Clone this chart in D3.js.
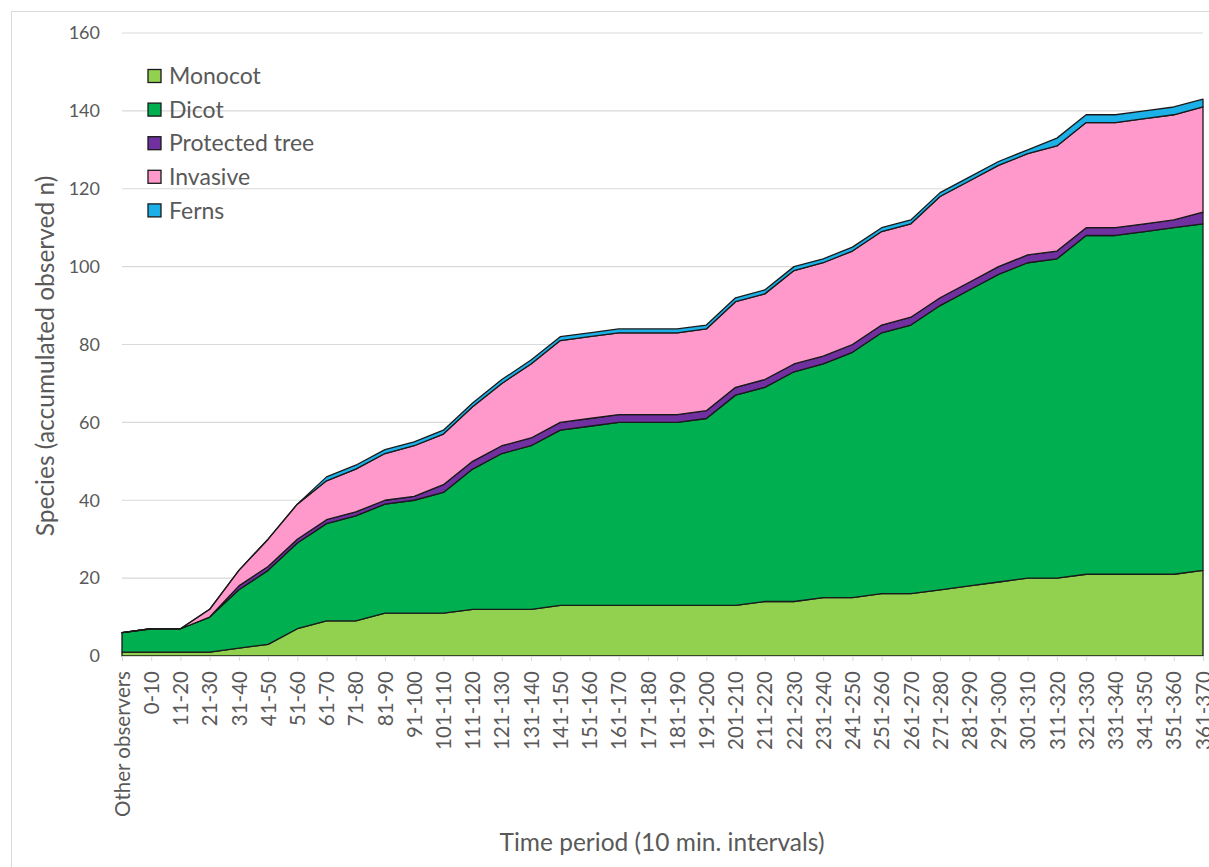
<!DOCTYPE html>
<html>
<head>
<meta charset="utf-8">
<script src="https://cdn.jsdelivr.net/npm/d3@7"></script>
<style>
  body { margin: 0; background: #fff; }
  text { font-family: Lato, "Open Sans", sans-serif; fill: #595959; }
</style>
</head>
<body>
<svg id="chart" width="1209" height="867"></svg>
<script>
// categories on the x axis
const periods = ['Other observers', '0-10', '11-20', '21-30', '31-40', '41-50', '51-60', '61-70', '71-80', '81-90',
  '91-100', '101-110', '111-120', '121-130', '131-140', '141-150', '151-160', '161-170', '171-180', '181-190',
  '191-200', '201-210', '211-220', '221-230', '231-240', '241-250', '251-260', '261-270', '271-280', '281-290',
  '291-300', '301-310', '311-320', '321-330', '331-340', '341-350', '351-360', '361-370'];

// series values (each layer on its own)
const monocot = [1, 1, 1, 1, 2, 3, 7, 9, 9, 11, 11, 11, 12, 12, 12, 13, 13, 13, 13, 13,
  13, 13, 14, 14, 15, 15, 16, 16, 17, 18, 19, 20, 20, 21, 21, 21, 21, 22];
const dicot = [5, 6, 6, 9, 15, 19, 22, 25, 27, 28, 29, 31, 36, 40, 42, 45, 46, 47, 47, 47,
  48, 54, 55, 59, 60, 63, 67, 69, 73, 76, 79, 81, 82, 87, 87, 88, 89, 89];
const protectedTree = [0, 0, 0, 0, 1, 1, 1, 1, 1, 1, 1, 2, 2, 2, 2, 2, 2, 2, 2, 2,
  2, 2, 2, 2, 2, 2, 2, 2, 2, 2, 2, 2, 2, 2, 2, 2, 2, 3];
const invasive = [0, 0, 0, 2, 4, 7, 9, 10, 11, 12, 13, 13, 14, 16, 19, 21, 21, 21, 21, 21,
  21, 22, 22, 24, 24, 24, 24, 24, 26, 26, 26, 26, 27, 27, 27, 27, 27, 27];
const ferns = [0, 0, 0, 0, 0, 0, 0, 1, 1, 1, 1, 1, 1, 1, 1, 1, 1, 1, 1, 1,
  1, 1, 1, 1, 1, 1, 1, 1, 1, 1, 1, 1, 2, 2, 2, 2, 2, 2];

const seriesNames = ['Monocot', 'Dicot', 'Protected tree', 'Invasive', 'Ferns'];
const seriesColors = ['#92d050', '#00b050', '#7030a0', '#ff99cc', '#1cb0e8'];
const yTicks = [0, 20, 40, 60, 80, 100, 120, 140, 160];

const width = 1209;
const height = 867;
const margin = { top: 33, right: 6, bottom: 211, left: 122 };

const svg = d3.select('#chart');

// light frame round the whole chart
svg.append('rect')
  .attr('x', 11.5)
  .attr('y', 11.5)
  .attr('width', width + 20)
  .attr('height', height + 20)
  .attr('fill', 'none')
  .attr('stroke', '#d9d9d9');

const table = periods.map((p, i) => ({
  period: p,
  Monocot: monocot[i],
  Dicot: dicot[i],
  'Protected tree': protectedTree[i],
  Invasive: invasive[i],
  Ferns: ferns[i],
}));

const x = d3.scalePoint()
  .domain(periods)
  .range([margin.left, width - margin.right]);

const y = d3.scaleLinear()
  .domain([0, 160])
  .range([height - margin.bottom, margin.top]);

const color = d3.scaleOrdinal()
  .domain(seriesNames)
  .range(seriesColors);

// gridlines
svg.append('g')
  .selectAll('line')
  .data(yTicks.filter((d) => d > 0))
  .enter()
  .append('line')
  .attr('x1', margin.left)
  .attr('x2', width - margin.right)
  .attr('y1', (d) => y(d))
  .attr('y2', (d) => y(d))
  .attr('stroke', '#d9d9d9')
  .attr('stroke-width', 1.2);

const stack = d3.stack().keys(seriesNames);
const layers = stack(table);

const area = d3.area()
  .x((d) => x(d.data.period))
  .y0((d) => y(d[0]))
  .y1((d) => y(d[1]));

svg.append('g')
  .selectAll('path')
  .data(layers)
  .enter()
  .append('path')
  .attr('d', area)
  .attr('fill', (d) => color(d.key))
  .attr('stroke', '#1a1a1a')
  .attr('stroke-width', 1.3)
  .attr('stroke-linejoin', 'round');

// x axis
const xAxis = d3.axisBottom(x).tickSize(5).tickPadding(6);
const gx = svg.append('g')
  .attr('transform', `translate(0, ${height - margin.bottom})`)
  .call(xAxis);
gx.select('.domain').attr('stroke', '#d9d9d9').attr('stroke-width', 1.2);
gx.selectAll('.tick line').attr('stroke', '#d9d9d9');
gx.selectAll('.tick text')
  .attr('transform', 'rotate(-90)')
  .attr('x', -15)
  .attr('y', 0)
  .attr('dy', '0.35em')
  .style('text-anchor', 'end')
  .style('font-size', '20.5px')
  .style('fill', '#595959');

// y axis
const yAxis = d3.axisLeft(y).tickValues(yTicks).tickSize(0).tickPadding(22);
const gy = svg.append('g')
  .attr('transform', `translate(${margin.left}, 0)`)
  .call(yAxis);
gy.select('.domain').remove();
gy.selectAll('.tick text')
  .style('font-size', '18px')
  .style('fill', '#595959');

// axis titles
svg.append('text')
  .attr('x', 662)
  .attr('y', 851)
  .attr('text-anchor', 'middle')
  .style('font-size', '24.5px')
  .text('Time period (10 min. intervals)');

svg.append('text')
  .attr('transform', 'rotate(-90)')
  .attr('x', -356)
  .attr('y', 54)
  .attr('text-anchor', 'middle')
  .style('font-size', '24.5px')
  .text('Species (accumulated observed n)');

// legend
const legend = svg.selectAll('.legend')
  .data(seriesNames)
  .enter()
  .append('g')
  .attr('class', 'legend')
  .attr('transform', (d, i) => `translate(148, ${76 + i * 33.6})`);

legend.append('rect')
  .attr('x', 0)
  .attr('y', -6.5)
  .attr('width', 13)
  .attr('height', 13)
  .attr('fill', (d) => color(d))
  .attr('stroke', '#1a1a1a')
  .attr('stroke-width', 1.3);

legend.append('text')
  .attr('x', 21)
  .attr('y', 0)
  .attr('dy', '0.36em')
  .style('font-size', '23px')
  .text((d) => d);
</script>
</body>
</html>
